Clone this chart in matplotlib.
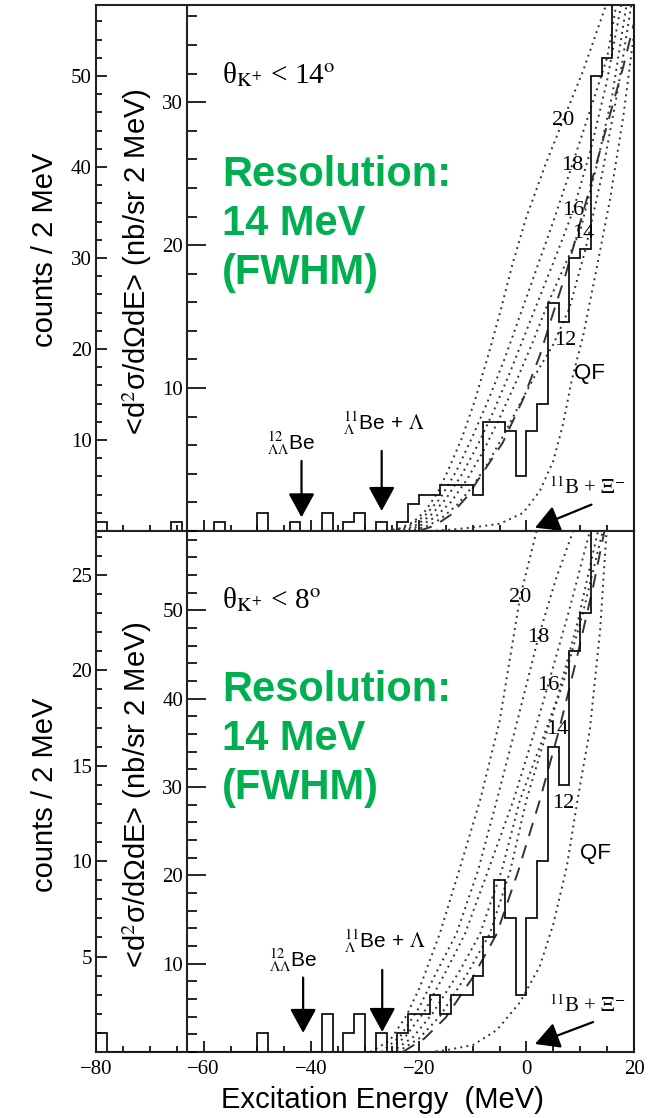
import matplotlib
matplotlib.use("Agg")
import matplotlib.pyplot as plt
from matplotlib.ticker import MultipleLocator, FixedLocator

plt.rcParams['font.family'] = ['Liberation Sans', 'DejaVu Sans']
plt.rcParams['mathtext.fontset'] = 'stix'

# 2 MeV bins, -80 .. 20 MeV
bin_edges = list(range(-80, 21, 2))

counts_14deg = [1, 0, 0, 0, 0, 0, 0, 1, 0, 0,
                0, 1, 0, 0, 0, 2, 0, 0, 1, 0,
                0, 2, 0, 1, 2, 0, 1, 0, 1, 3,
                4, 4, 5, 5, 5, 4, 12, 12, 11, 6,
                11, 14, 25, 23, 30, 31, 50, 52, 62, 62]

counts_8deg = [1, 0, 0, 0, 0, 0, 0, 0, 0, 0,
               0, 0, 0, 0, 0, 1, 0, 0, 0, 0,
               0, 2, 0, 1, 2, 0, 1, 0, 1, 2,
               2, 3, 2, 3, 3, 4, 6, 9, 7, 3,
               7, 10, 16, 14, 21, 23, 29, 30, 30, 30]

# calculated spectra (in counts units): (E, counts)
curves_14deg = {
    "20": [(-26, 0), (-23.5, 0.3), (-21, 1.0), (-18.8, 2.2), (-16.5, 4.2), (-14.6, 6.6), (-12, 10.2),
           (-9.6, 14.3), (-7, 19.5), (-4.9, 24), (-2.5, 29.5), (0, 34.5), (3.5, 40.2), (6.8, 45.1),
           (10.5, 50.5), (14.8, 57.8), (15.5, 59)],
    "18": [(-25, 0), (-22, 0.5), (-19, 1.6), (-16, 3.6), (-13, 6.6), (-10, 10.4), (-7, 14.5), (-4, 19),
           (-1, 24), (2, 29), (5, 34), (8.5, 40.2), (12, 46.5), (15, 52), (16.7, 57.8), (17.5, 59.5)],
    "16": [(-24, 0), (-21, 0.5), (-18, 1.6), (-15, 3.5), (-12, 6.2), (-9, 9.5), (-6, 13.3), (-3, 17.5),
           (0, 22), (3, 26.5), (6, 31), (8.7, 35.2), (12, 42), (15, 49.5), (17.6, 57.8), (18.5, 60)],
    "14": [(-23, 0), (-20, 0.5), (-17, 1.5), (-14, 3.2), (-11, 5.7), (-8, 8.8), (-5, 12.4), (-2, 16.3),
           (1, 20.5), (4, 25), (7, 29), (10, 33), (13, 40), (16, 48), (18.6, 57.8), (19.5, 60)],
    "12": [(-22, 0), (-19, 0.4), (-16, 1.3), (-13, 2.8), (-10, 4.9), (-7, 7.6), (-4, 10.8), (-1, 14.2),
           (2, 17.5), (5, 20.5), (8, 24.5), (11, 31), (14, 39), (17, 48.5), (19.5, 57.8), (20.5, 60)],
    "QF": [(-18, 0), (-14, 0.15), (-9.9, 0.4), (-4.9, 0.8), (-0.6, 2.0), (2.5, 4.4), (5, 7.7), (6.8, 11.7),
           (8.4, 16.5), (10.6, 21.6), (13.1, 29), (15.5, 36.3), (18, 45.5), (19.6, 52.8), (20.5, 57)],
}
fit_14deg = [(-20, 0), (-17, 0.6), (-14, 1.8), (-11, 3.8), (-8, 6.5), (-4.4, 9.7), (-0.6, 14.5), (2.5, 19.3),
             (5, 24), (7.4, 28.4), (11, 36), (14.9, 44.4), (18, 51), (20.5, 57)]

curves_8deg = {
    "20": [(-29, 0), (-25.4, 0.6), (-22.3, 1.9), (-19.8, 3.4), (-16.1, 6.2), (-12.3, 9.7), (-8.6, 13.2),
           (-5, 17.3), (-1.2, 23.8), (1.9, 27.3), (3, 28.5)],
    "18": [(-27, 0), (-23.5, 0.8), (-20, 2.3), (-16.5, 4.3), (-13, 6.2), (-9, 9.5), (-5.5, 13.2), (-2, 17),
           (2.2, 21.7), (5.5, 24.8), (8.7, 27.3), (10, 28.5)],
    "16": [(-26, 0), (-22.5, 0.8), (-19, 2.1), (-15, 4.2), (-11.4, 6.2), (-7, 9.6), (-2.4, 13.2), (1, 16.3),
           (4, 19.2), (8, 23.2), (11.8, 27.3), (13, 28.5)],
    "14": [(-25, 0), (-21, 0.8), (-17.5, 2), (-12.5, 4.2), (-8.6, 6.2), (-4.5, 9.6), (-1.2, 13.2), (2.5, 16),
           (5.7, 18.5), (9.5, 22.5), (13.3, 27.3), (14.5, 28.8)],
    "12": [(-24, 0), (-20, 0.7), (-16, 1.9), (-11, 4.1), (-6.8, 6.2), (-3, 9.5), (0, 13.2), (3.5, 16.5),
           (7, 19.5), (10.5, 23), (14.2, 27.3), (15, 28.3)],
    "QF": [(-18, 0), (-14.8, 0.1), (-9.9, 0.37), (-5.5, 1.15), (-1.2, 2.6), (2.5, 4.5), (5, 6.7), (7.5, 9.7),
           (9.5, 13.2), (11.8, 16.9), (13.7, 22.1), (14.9, 27.3), (15.3, 28.5)],
}
fit_8deg = [(-23, 0), (-19, 0.7), (-15, 1.8), (-10, 3.9), (-5.5, 6.2), (-1.5, 9.5), (2.5, 13.2), (6, 16.8),
            (9.5, 20.8), (12.5, 24.5), (14.5, 27.3), (15.3, 28.3)]

# curve label positions (E, counts)
labels_14deg = {"20": (6.8, 45.1), "18": (8.5, 40.2), "16": (8.7, 35.2), "14": (10.5, 32.7),
                "12": (7.2, 20.9), "QF": (11.8, 17.3)}
labels_8deg = {"20": (-1.2, 23.8), "18": (2.2, 21.7), "16": (4.0, 19.2), "14": (5.7, 16.9),
               "12": (6.8, 13.0), "QF": (12.8, 10.4)}

SERIF = 'Liberation Serif'
GREEN = '#00B050'
DOT = (0, (1, 2.2))


def setup_axes(ax, ymax, left_ticks, left_minor, inner_max, inner_ticks, show_xlabels):
    ax.set_xlim(-80, 20)
    ax.set_ylim(0, ymax)
    for s in ax.spines.values():
        s.set_linewidth(1.5)
        s.set_color('#222222')
    ax.xaxis.set_major_locator(MultipleLocator(20))
    ax.xaxis.set_minor_locator(MultipleLocator(5))
    ax.yaxis.set_major_locator(FixedLocator(left_ticks))
    ax.yaxis.set_minor_locator(MultipleLocator(left_minor))
    ax.tick_params(which='both', direction='in', top=False, right=False, width=1.2,
                   labelsize=15, labelfontfamily=SERIF, pad=3)
    ax.tick_params(which='major', length=8)
    ax.tick_params(which='minor', length=4)
    ax.tick_params(axis='x', labelbottom=show_xlabels, pad=6)

    # inner cross-section axis at E = -63
    ax2 = ax.twinx()
    ax2.set_ylim(0, inner_max)
    ax2.spines['left'].set_position(('data', -63))
    ax2.spines['left'].set_visible(True)
    ax2.spines['left'].set_linewidth(1.5)
    ax2.spines['left'].set_color('#222222')
    for s in ['right', 'top', 'bottom']:
        ax2.spines[s].set_visible(False)
    ax2.yaxis.set_ticks_position('left')
    ax2.yaxis.set_major_locator(FixedLocator(inner_ticks))
    ax2.yaxis.set_minor_locator(MultipleLocator(2))
    ax2.tick_params(axis='y', which='both', direction='in', left=True, right=False,
                    labelleft=True, labelright=False, width=1.2,
                    labelsize=15, labelfontfamily=SERIF, pad=3)
    ax2.tick_params(axis='y', which='major', length=14)
    ax2.tick_params(axis='y', which='minor', length=7)
    return ax2


def draw_panel(ax, counts, curves, fit, labels):
    ax.stairs(counts, bin_edges, baseline=0, color='#111111', linewidth=1.3, zorder=4)
    for name, pts in curves.items():
        ax.plot([p[0] for p in pts], [p[1] for p in pts], color='#333333', lw=1.4,
                linestyle=DOT, zorder=3)
    ax.plot([p[0] for p in fit], [p[1] for p in fit], color='#333333', lw=1.4,
            linestyle=(0, (7, 5)), zorder=3)
    for name, (x, y) in labels.items():
        fam = 'Liberation Sans' if name == 'QF' else SERIF
        ax.text(x, y, name, fontsize=16, family=fam, ha='center', va='center', zorder=5)


def arrow(ax, tail, tip):
    ax.annotate('', xy=tip, xytext=tail,
                arrowprops=dict(arrowstyle='-|>,head_length=0.55,head_width=0.3',
                                mutation_scale=27, lw=1.6, color='black',
                                shrinkA=0, shrinkB=0), zorder=6)


fig = plt.figure(figsize=(6.49, 11.18), dpi=100)
ax_top = fig.add_axes([96 / 649, 1 - 531 / 1118, 538 / 649, 526 / 1118])
ax_bot = fig.add_axes([96 / 649, 1 - 1052 / 1118, 538 / 649, 521 / 1118])

setup_axes(ax_top, 57.8, [10, 20, 30, 40, 50], 2, 36.8, [10, 20, 30], False)
setup_axes(ax_bot, 27.3, [5, 10, 15, 20, 25], 1, 59.0, [10, 20, 30, 40, 50], True)

draw_panel(ax_top, counts_14deg, curves_14deg, fit_14deg, labels_14deg)
draw_panel(ax_bot, counts_8deg, curves_8deg, fit_8deg, labels_8deg)

# angle cuts
ax_top.text(-56.6, 50.2, r'θ$_{\mathrm{K}^{+}}$ < 14$^{\mathrm{o}}$', fontsize=21, family=SERIF,
            ha='left', va='center')
ax_bot.text(-56.6, 23.7, r'θ$_{\mathrm{K}^{+}}$ < 8$^{\mathrm{o}}$', fontsize=21, family=SERIF,
            ha='left', va='center')

# threshold arrows and labels
be_label = r'$^{12}_{\Lambda\Lambda}$Be'
bel_label = r'$^{11}_{\Lambda}$Be + $\Lambda$'
bxi_label = r'$^{11}$B + $\Xi^{-}$'

ax_top.text(-43.8, 9.7, be_label, fontsize=15, ha='center', va='center')
ax_top.text(-26.5, 11.8, bel_label, fontsize=15, ha='center', va='center')
ax_top.text(11.4, 4.7, bxi_label, fontsize=15, family=SERIF, ha='center', va='center')
arrow(ax_top, (-41.8, 7.7), (-41.8, 1.5))
arrow(ax_top, (-26.9, 8.8), (-26.9, 2.2))
arrow(ax_top, (12.1, 2.9), (1.6, 0.36))

ax_bot.text(-43.4, 4.8, be_label, fontsize=15, ha='center', va='center')
ax_bot.text(-26.3, 5.8, bel_label, fontsize=15, ha='center', va='center')
ax_bot.text(11.4, 2.4, bxi_label, fontsize=15, family=SERIF, ha='center', va='center')
arrow(ax_bot, (-41.5, 3.9), (-41.5, 1.0))
arrow(ax_bot, (-26.8, 4.3), (-26.8, 1.05))
arrow(ax_bot, (12.4, 1.57), (1.6, 0.42))

# axis titles
fig.text(45 / 649, 1 - 250 / 1118, 'counts / 2 MeV', rotation=90, fontsize=21, ha='center', va='center')
fig.text(45 / 649, 1 - 795 / 1118, 'counts / 2 MeV', rotation=90, fontsize=21, ha='center', va='center')
ylab2 = r'<d$^{2}$σ/dΩdE> (nb/sr 2 MeV)'
fig.text(137 / 649, 1 - 262 / 1118, ylab2, rotation=90, fontsize=21, ha='center', va='center')
fig.text(137 / 649, 1 - 795 / 1118, ylab2, rotation=90, fontsize=21, ha='center', va='center')
fig.text(382 / 649, 1 - 1100 / 1118, 'Excitation Energy  (MeV)', fontsize=21, ha='center', va='center')

# resolution note
for y0 in (175, 690):
    for i, line in enumerate(['Resolution:', '14 MeV', '(FWHM)']):
        fig.text(222 / 649, 1 - (y0 + 49 * i) / 1118, line, fontsize=30, fontweight='bold',
                 color=GREEN, ha='left', va='center')

fig.savefig('out.png', dpi=100)
